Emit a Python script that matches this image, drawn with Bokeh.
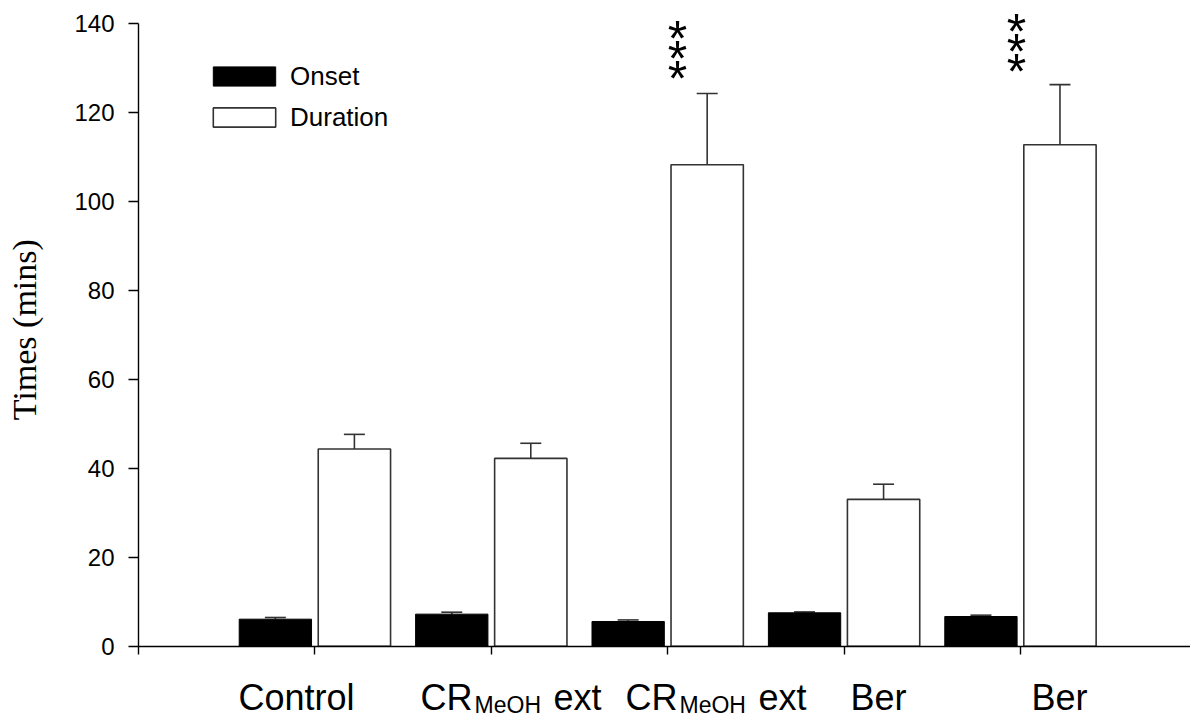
import math
from bokeh.plotting import figure
from bokeh.models import (ColumnDataSource, Whisker, TeeHead, Legend, LegendItem,
                          Label, FixedTicker, Range1d, LinearAxis)
from bokeh.core.properties import value
from bokeh.embed import file_html
from bokeh.resources import INLINE

# ---- data ----
groups = [1, 2, 3, 4, 5]
label_main = ["Control", "CR", "CR", "Ber", "Ber"]
label_sub = ["", "MeOH", "MeOH", "", ""]
label_tail = ["", "ext", "ext", "", ""]
label_x = [0.567, 1.599, 2.761, 4.036, 5.062]

onset = [6.07, 7.2, 5.55, 7.5, 6.67]
onset_se = [0.38, 0.44, 0.35, 0.2, 0.3]
duration = [44.3, 42.2, 108.2, 33.0, 112.7]
duration_se = [3.3, 3.4, 16.0, 3.4, 13.5]

sig_x = [3.056, 3.056, 3.056, 4.977, 4.977, 4.977]
sig_y = [137.8, 133.4, 128.9, 139.5, 135.0, 130.5]
sig_text = ["*"] * 6

y_ticks = [0, 20, 40, 60, 80, 100, 120, 140]
x_ticks = [0, 1, 2, 3, 4, 5, 6]

FONT = "Liberation Sans"
PX_PER_UNIT = 720 / (145.1 + 16.7)

p = figure(width=1190, height=720, output_backend="svg", toolbar_location=None,
           x_range=Range1d(-0.7823, 5.964), y_range=Range1d(-16.7, 145.1),
           x_axis_location=None, y_axis_location=None,
           min_border_left=0, min_border_right=0, min_border_top=0, min_border_bottom=0)
p.outline_line_color = None
p.xgrid.visible = False
p.ygrid.visible = False
p.background_fill_color = "white"
p.border_fill_color = "white"

off = 0.224
bw = 0.41
src = ColumnDataSource(dict(
    xo=[g - off for g in groups], xd=[g + off for g in groups],
    onset=onset, duration=duration,
    onset_top=[m + s for m, s in zip(onset, onset_se)],
    dur_top=[m + s for m, s in zip(duration, duration_se)],
))

r_on = p.vbar(x="xo", top="onset", bottom=0, width=bw, source=src,
              fill_color="black", line_color="black", line_width=1)
r_du = p.vbar(x="xd", top="duration", bottom=0, width=bw, source=src,
              fill_color="white", line_color="#333333", line_width=1.6)

for base, lo, hi in (("xo", "onset", "onset_top"), ("xd", "duration", "dur_top")):
    w = Whisker(base=base, lower=lo, upper=hi, source=src, dimension="height",
                line_color="#333333", line_width=1.6,
                lower_head=None,
                upper_head=TeeHead(size=21, line_color="#333333", line_width=1.6))
    p.add_layout(w)

# significance asterisks (anchor placed a little below the glyph's visual centre)
star_src = ColumnDataSource(dict(x=sig_x, y=[v - 6.25 / PX_PER_UNIT for v in sig_y],
                                 t=sig_text))
p.text(x="x", y="y", text="t", source=star_src, text_font=value(FONT),
       text_font_size="50px", text_align="center", text_baseline="middle",
       text_color="black")

# y axis fixed at x = 0
yax = LinearAxis(fixed_location=0, bounds=(0, 140), ticker=FixedTicker(ticks=y_ticks),
                 major_tick_out=10, major_tick_in=0, minor_tick_out=0, minor_tick_in=0,
                 major_label_standoff=14, major_label_text_font=FONT,
                 major_label_text_font_size="24px", major_label_text_color="black",
                 axis_line_color="black", axis_line_width=1.4,
                 major_tick_line_color="black", major_tick_line_width=1.4)
p.add_layout(yax, "left")

# x axis fixed at y = 0, starting at the y axis
xax = LinearAxis(fixed_location=0, bounds=(0, 6), ticker=FixedTicker(ticks=x_ticks),
                 major_label_overrides={i: "" for i in x_ticks},
                 major_tick_out=8, major_tick_in=0, minor_tick_out=0, minor_tick_in=0,
                 axis_line_color="black", axis_line_width=1.4,
                 major_tick_line_color="black", major_tick_line_width=1.4,
                 major_label_text_font_size="1px", major_label_standoff=0)
p.add_layout(xax, "below")

# y axis title
p.add_layout(Label(x=-0.6463, y=71.13, text="Times (mins)", angle=math.pi / 2,
                   text_font="Liberation Serif", text_font_size="34px",
                   text_align="center", text_baseline="middle", text_color="black"))

# category labels
for lx, main, sub, tail in zip(label_x, label_main, label_sub, label_tail):
    p.add_layout(Label(x=lx, y=-11.64, text=main, text_font=FONT, text_font_size="36px",
                       text_align="left", text_baseline="alphabetic", text_color="black"))
    if sub:
        p.add_layout(Label(x=lx, y=-13.3, x_offset=54, text=sub, text_font=FONT,
                           text_font_size="23px", text_align="left",
                           text_baseline="alphabetic", text_color="black"))
    if tail:
        p.add_layout(Label(x=lx, y=-11.64, x_offset=133, text=tail, text_font=FONT,
                           text_font_size="36px", text_align="left",
                           text_baseline="alphabetic", text_color="black"))

legend = Legend(items=[LegendItem(label="Onset", renderers=[r_on]),
                       LegendItem(label="Duration", renderers=[r_du])],
                location=(205, 587.5), orientation="vertical",
                glyph_width=78, glyph_height=24, label_height=24, label_standoff=7,
                spacing=10, padding=0, margin=0,
                label_text_font=FONT, label_text_font_size="26px", label_text_color="black",
                border_line_color=None, background_fill_alpha=0)
p.add_layout(legend)

open("out.html", "w").write(file_html(p, INLINE))
